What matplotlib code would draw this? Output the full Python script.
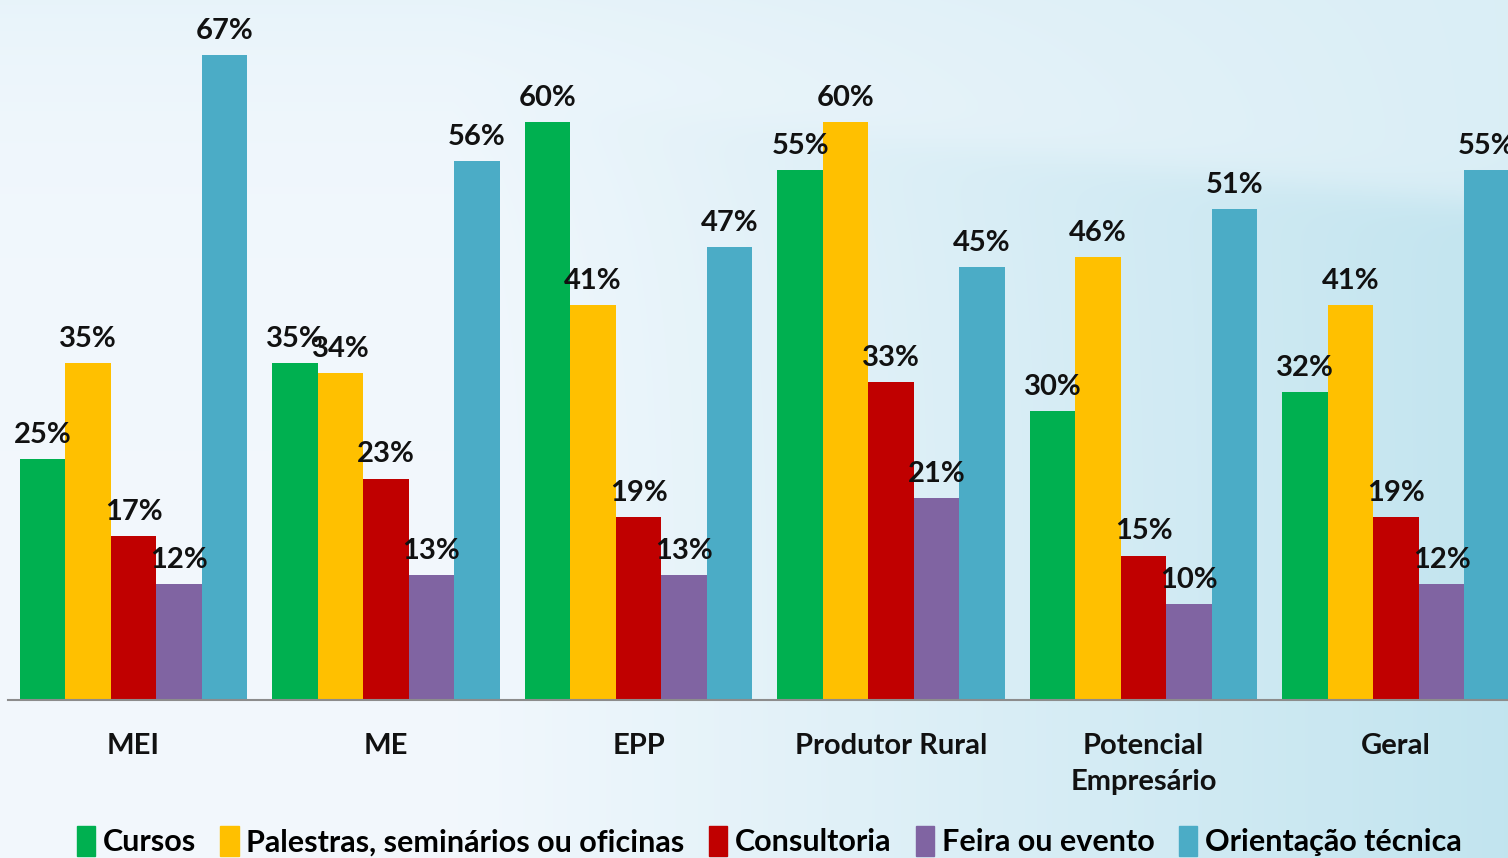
import numpy as np
import matplotlib
matplotlib.use("Agg")
import matplotlib.pyplot as plt
from matplotlib.patches import Patch

categories = ["MEI", "ME", "EPP", "Produtor Rural", "Potencial\nEmpresário", "Geral"]
series = ["Cursos", "Palestras, seminários ou oficinas", "Consultoria",
          "Feira ou evento", "Orientação técnica"]
cursos     = [25, 35, 60, 55, 30, 32]
palestras  = [35, 34, 41, 60, 46, 41]
consult    = [17, 23, 19, 33, 15, 19]
feira      = [12, 13, 13, 21, 10, 12]
orientacao = [67, 56, 47, 45, 51, 55]
values = [cursos, palestras, consult, feira, orientacao]

COLORS = ["#00b050", "#ffc000", "#c00000", "#8064a2", "#4bacc6"]
FONT = "Lato"

W, H = 1508, 858
fig = plt.figure(figsize=(W / 100, H / 100), dpi=100)

# soft light-blue backdrop, deeper towards the lower right
yy, xx = np.mgrid[0:H, 0:W].astype(float)
t = xx / W
curve = 150 + 0.11 * (xx - 1000)
below = 1 / (1 + np.exp(-(yy - curve) / 10))
right = np.clip((t - 0.3) / 0.7, 0, 1)
w = right * (0.5 + 0.5 * below)
w += 0.22 * np.exp(-yy / 120) * (1 - right)
w = np.clip(w, 0, 1)[..., None]
light = np.array([0.95, 0.972, 0.992])
blue = np.array([0.76, 0.895, 0.937])
img = light * (1 - w) + blue * w
bg = fig.add_axes([0, 0, 1, 1], zorder=0)
bg.imshow(img, aspect="auto", interpolation="bilinear")
bg.axis("off")

base = 700
ax = fig.add_axes([8 / W, (H - base) / H, 1 - 8 / W, base / H], zorder=1)
ax.patch.set_alpha(0)

x = np.arange(len(categories))
bw = 0.18
for j, (vals, col) in enumerate(zip(values, COLORS)):
    bars = ax.bar(x + (j - 2) * bw, vals, width=bw, color=col, linewidth=0)
    ax.bar_label(bars, labels=[f"{v}%" for v in vals], padding=8,
                 fontsize=21, fontweight="bold", family=FONT, color="#111111")

ax.set_xlim(-0.497, 5.443)
ax.set_ylim(0, 72.7)
ax.set_yticks([])
ax.set_xticks(x)
ax.set_xticklabels(categories, fontsize=21, fontweight="bold", family=FONT,
                   color="#111111", linespacing=1.45)
ax.tick_params(axis="x", length=0, pad=24)
for s in ["top", "left", "right"]:
    ax.spines[s].set_visible(False)
ax.spines["bottom"].set_color("#8c8c8c")
ax.spines["bottom"].set_linewidth(1.5)

handles = [Patch(color=c) for c in COLORS]
fig.legend(handles, series, loc="lower center", bbox_to_anchor=(0.51, -0.03),
           ncol=5, frameon=False, handlelength=0.6, handleheight=1.1,
           handletextpad=0.25, columnspacing=0.8,
           prop={"family": FONT, "weight": "bold", "size": 22})

fig.savefig("out.png", dpi=100)
